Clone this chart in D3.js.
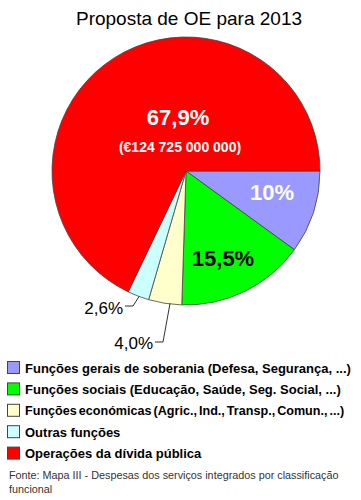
<!DOCTYPE html>
<html><head><meta charset="utf-8">
<script src="https://cdn.jsdelivr.net/npm/d3@7"></script>
<style>body{margin:0;background:#fff}svg{display:block}</style>
</head><body>
<svg id="c" width="361" height="500"></svg>
<script>
const title = "Proposta de OE para 2013";
const categories = [
  "Funções gerais de soberania (Defesa, Segurança, ...)",
  "Funções sociais (Educação, Saúde, Seg. Social, ...)",
  "Funções económicas (Agric., Ind., Transp., Comun., ...)",
  "Outras funções",
  "Operações da dívida pública"
];
const values = [10, 15.5, 4.0, 2.6, 67.9];
const valueLabels = ["10%", "15,5%", "4,0%", "2,6%", "67,9%"];
const colors = ["#9999ff", "#00ff00", "#ffffcc", "#ccffff", "#ff0000"];
const subLabel = "(€124 725 000 000)";
const source = ["Fonte: Mapa III - Despesas dos serviços integrados por classificação", "funcional"];

const svg = d3.select("#c");
const cx = 186, cy = 171, r = 134;
const font = "Liberation Sans, Arial, sans-serif";

svg.append("text").attr("x", 189).attr("y", 25).attr("text-anchor", "middle")
  .attr("font-family", font).attr("font-size", 19)
  .attr("fill", "#000").text(title);

const pie = d3.pie().sort(null).value(d => d)
  .startAngle(Math.PI / 2).endAngle(Math.PI / 2 + 2 * Math.PI);
const arcs = pie(values);
const arc = d3.arc().innerRadius(0).outerRadius(r);
const g = svg.append("g").attr("transform", `translate(${cx},${cy})`);
g.selectAll("path").data(arcs).join("path")
  .attr("d", arc).attr("fill", (d, i) => colors[i])
  .attr("stroke", "#444").attr("stroke-width", 0.8);

function mid(d) { return (d.startAngle + d.endAngle) / 2; }
function pt(angle, rr) { return [Math.sin(angle) * rr, -Math.cos(angle) * rr]; }
function bigLabel(x, y, txt, fill, size) {
  g.append("text").attr("x", x).attr("y", y).attr("text-anchor", "middle")
    .attr("font-family", font).attr("font-weight", "bold").attr("font-size", size)
    .attr("fill", fill).text(txt);
}
bigLabel(272 - cx, 200 - cy, valueLabels[0], "#fff", 22);
bigLabel(223 - cx, 266 - cy, valueLabels[1], "#000", 22);
bigLabel(178 - cx, 125 - cy, valueLabels[4], "#fff", 22);
bigLabel(180 - cx, 152 - cy, subLabel, "#fff", 14);

// outside labels with leaders
function outside(i, tx, ty, path) {
  g.append("text").attr("x", tx).attr("y", ty).attr("text-anchor", "end")
    .attr("font-family", font).attr("font-size", 17).attr("fill", "#000").text(valueLabels[i]);
  const d = arcs[i]; const p = pt(mid(d), r);
  g.append("path").attr("d", d3.line()(path(p))).attr("fill", "none")
    .attr("stroke", "#333").attr("stroke-width", 1);
}
outside(3, 123 - cx, 314 - cy, p => [[125 - cx, 306 - cy], [133 - cx, 306 - cy], [p[0] + 1, p[1]]]);
outside(2, 153 - cx, 349 - cy, p => [[155 - cx, 342 - cy], [163 - cx, 342 - cy], [p[0] + 5, p[1]]]);

// legend
const lg = svg.append("g");
categories.forEach((c, i) => {
  const y = 361 + i * 21.4;
  lg.append("rect").attr("x", 7.5).attr("y", y + 0.5).attr("width", 12).attr("height", 12)
    .attr("fill", colors[i]).attr("stroke", "#444").attr("stroke-width", 1);
  const t = lg.append("text").attr("x", 25).attr("y", y + 11.5)
    .attr("font-family", font).attr("font-weight", "bold").attr("font-size", 13)
    .attr("fill", "#000").text(c);
  if (i === 2) t.attr("font-size", 12.6).attr("word-spacing", -1.5);
});
source.forEach((s, i) => {
  svg.append("text").attr("x", 9).attr("y", 479 + i * 14)
    .attr("font-family", font).attr("font-size", 10.8).attr("fill", "#333").text(s);
});
</script>
</body></html>
